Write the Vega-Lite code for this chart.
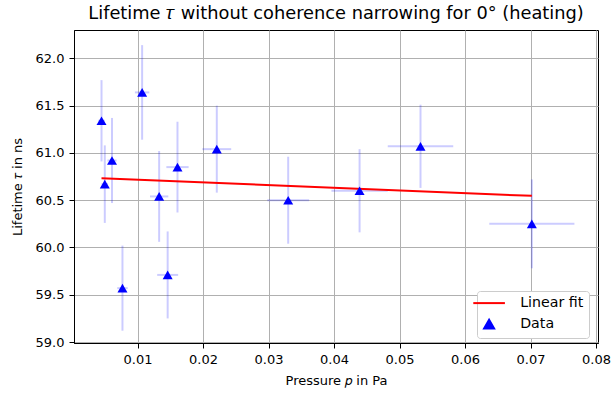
{
  "$schema": "https://vega.github.io/schema/vega-lite/v6.json",
  "autosize": {"type": "none"},
  "padding": {"left": 74, "top": 30, "right": 14, "bottom": 56},
  "width": 524,
  "height": 313,
  "background": "white",
  "title": {
    "text": "Lifetime 𝜏 without coherence narrowing for 0° (heating)",
    "font": "DejaVu Sans",
    "fontSize": 17.8,
    "fontWeight": "normal",
    "color": "black",
    "offset": 7
  },
  "config": {
    "view": {"stroke": "black", "strokeWidth": 1},
    "axis": {
      "labelFont": "DejaVu Sans",
      "labelFontSize": 13,
      "labelColor": "black",
      "titleFont": "DejaVu Sans",
      "titleFontSize": 13,
      "titleFontWeight": "normal",
      "titleColor": "black",
      "domainColor": "black",
      "tickColor": "black",
      "tickSize": 5,
      "labelPadding": 5,
      "gridColor": "#b0b0b0",
      "gridWidth": 1,
      "gridOpacity": 1
    },
    "legend": {
      "orient": "none",
      "legendX": 403,
      "legendY": 261,
      "strokeColor": "#cccccc",
      "fillColor": "white",
      "cornerRadius": 3,
      "padding": 5,
      "labelFont": "DejaVu Sans",
      "labelFontSize": 14.2,
      "labelColor": "black",
      "labelOffset": 24,
      "rowPadding": 4,
      "symbolSize": 1000,
      "symbolStrokeWidth": 2
    }
  },
  "datasets": {
    "data": [
      {"p": 0.0045, "tau": 61.34, "p_err": 0.0005, "tau_err": 0.43, "series": "Data"},
      {"p": 0.0050, "tau": 60.67, "p_err": 0.0005, "tau_err": 0.41, "series": "Data"},
      {"p": 0.0061, "tau": 60.92, "p_err": 0.0007, "tau_err": 0.45, "series": "Data"},
      {"p": 0.0077, "tau": 59.57, "p_err": 0.0008, "tau_err": 0.45, "series": "Data"},
      {"p": 0.0107, "tau": 61.64, "p_err": 0.0011, "tau_err": 0.50, "series": "Data"},
      {"p": 0.0133, "tau": 60.54, "p_err": 0.0014, "tau_err": 0.48, "series": "Data"},
      {"p": 0.0146, "tau": 59.71, "p_err": 0.0016, "tau_err": 0.46, "series": "Data"},
      {"p": 0.0161, "tau": 60.85, "p_err": 0.0017, "tau_err": 0.48, "series": "Data"},
      {"p": 0.0221, "tau": 61.04, "p_err": 0.0022, "tau_err": 0.46, "series": "Data"},
      {"p": 0.0330, "tau": 60.50, "p_err": 0.0032, "tau_err": 0.46, "series": "Data"},
      {"p": 0.0439, "tau": 60.60, "p_err": 0.0043, "tau_err": 0.44, "series": "Data"},
      {"p": 0.0532, "tau": 61.07, "p_err": 0.0050, "tau_err": 0.44, "series": "Data"},
      {"p": 0.0702, "tau": 60.25, "p_err": 0.0065, "tau_err": 0.47, "series": "Data"}
    ],
    "fit": [
      {"p": 0.0045, "tau": 60.733, "series": "Linear fit"},
      {"p": 0.0702, "tau": 60.546, "series": "Linear fit"}
    ]
  },
  "encoding": {
    "x": {
      "field": "p",
      "type": "quantitative",
      "scale": {"domain": [0.0003, 0.0803], "nice": false, "zero": false},
      "axis": {
        "title": "Pressure 𝑝 in Pa",
        "values": [0.01, 0.02, 0.03, 0.04, 0.05, 0.06, 0.07, 0.08],
        "format": ".2f",
        "titlePadding": 8
      }
    },
    "y": {
      "field": "tau",
      "type": "quantitative",
      "scale": {"domain": [58.99, 62.3], "nice": false, "zero": false},
      "axis": {
        "title": "Lifetime 𝜏 in ns",
        "values": [59.0, 59.5, 60.0, 60.5, 61.0, 61.5, 62.0],
        "format": ".1f",
        "titlePadding": 11
      }
    }
  },
  "layer": [
    {
      "data": {"name": "data"},
      "mark": {"type": "errorbar", "ticks": false, "color": "#0000ff", "opacity": 0.2, "thickness": 2},
      "encoding": {"yError": {"field": "tau_err"}}
    },
    {
      "data": {"name": "data"},
      "mark": {"type": "errorbar", "ticks": false, "color": "#0000ff", "opacity": 0.2, "thickness": 2},
      "encoding": {"xError": {"field": "p_err"}}
    },
    {
      "data": {"name": "fit"},
      "mark": {"type": "line", "strokeWidth": 2},
      "encoding": {
        "color": {
          "field": "series",
          "type": "nominal",
          "scale": {"domain": ["Linear fit", "Data"], "range": ["#ff0000", "#0000ff"]},
          "legend": {
            "title": null,
            "encode": {
              "symbols": {
                "update": {
                  "shape": {"signal": "datum.value === 'Linear fit' ? 'stroke' : 'triangle-up'"},
                  "size": {"signal": "datum.value === 'Linear fit' ? 1000 : 100"},
                  "fill": {"signal": "datum.value === 'Linear fit' ? 'transparent' : '#0000ff'"},
                  "stroke": {"signal": "datum.value === 'Linear fit' ? '#ff0000' : 'transparent'"},
                  "strokeWidth": {"value": 2},
                  "opacity": {"value": 1}
                }
              }
            }
          }
        }
      }
    },
    {
      "data": {"name": "data"},
      "mark": {"type": "point", "shape": "triangle-up", "filled": true, "size": 100, "opacity": 1},
      "encoding": {
        "color": {"field": "series", "type": "nominal"}
      }
    }
  ]
}
